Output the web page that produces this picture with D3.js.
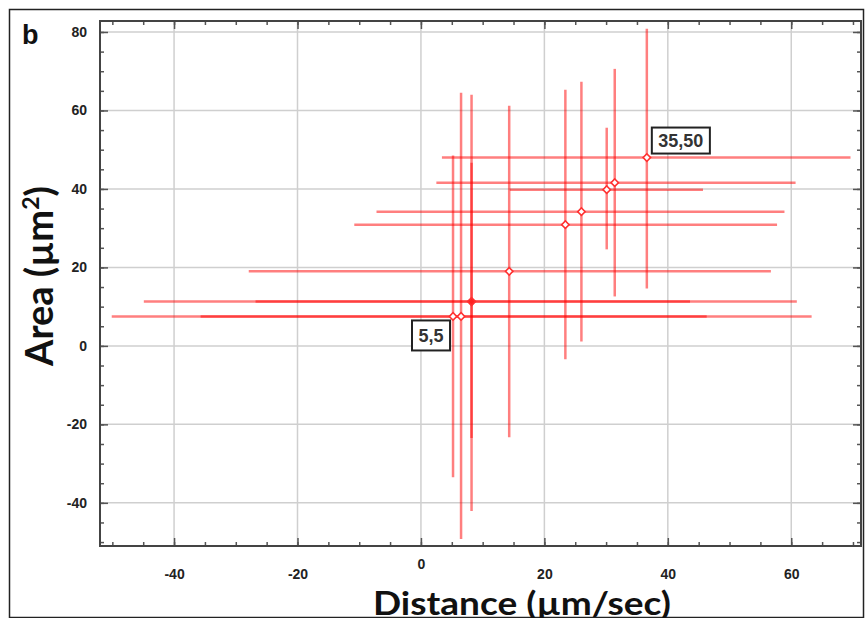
<!DOCTYPE html>
<head>
  <meta charset="utf-8">
  <script src="https://d3js.org/d3.v7.min.js"></script>
  <style>
    body { margin: 0; background: #fff; }
    .tick text { font-family: "Liberation Sans", Arial, sans-serif; font-weight: bold; font-size: 14px; fill: #222; }
    .title { font-family: Lato, "Open Sans", sans-serif; font-weight: bold; fill: #111; }
  </style>
</head>
<body>
<div id="my_dataviz"></div>
<script>

// values (one entry per point)
var pointX = [36.6, 31.4, 30.1, 26.0, 23.4, 14.3, 8.2, 8.2, 5.2, 6.5];
var pointY = [48.0, 41.6, 39.8, 34.2, 30.9, 19.0, 11.3, 11.3, 7.5, 7.5];
var xLow   = [3.4, 2.5, 14.4, -7.2, -10.8, -27.9, -44.9, -26.8, -35.7, -50.1];
var xHigh  = [69.6, 60.7, 45.7, 58.9, 57.7, 56.7, 60.9, 43.6, 46.3, 63.3];
var yLow   = [14.6, 12.6, 24.6, 1.1, -3.4, -23.3, -42.1, -23.5, -33.5, -49.2];
var yHigh  = [80.8, 70.6, 55.6, 67.3, 65.3, 61.2, 64.0, 46.7, 48.5, 64.5];

// tick labels
var xTicks = [-40, -20, 0, 20, 40, 60];
var yTicks = [-40, -20, 0, 20, 40, 60, 80];

// annotations: text and the point they belong to
var noteText  = ["35,50", "5,5"];
var notePoint = [0, 8];

var W = 865, H = 618;
var margin = {top: 21, right: 4, bottom: 72, left: 100};

var svg = d3.select("#my_dataviz")
  .append("svg")
    .attr("width", W)
    .attr("height", H);

// outer frame of the figure
svg.append("rect")
  .attr("x", 9.5).attr("y", 9.5)
  .attr("width", 854).attr("height", 608)
  .attr("fill", "none").attr("stroke", "#222").attr("stroke-width", 1.5);

svg.append("text")
  .attr("class", "title")
  .attr("x", 22).attr("y", 44)
  .style("font-family", "'Liberation Sans', Arial, sans-serif")
  .style("font-size", "27px")
  .text("b");

var x = d3.scaleLinear().domain([-52, 71.3]).range([margin.left, W - margin.right]);
var y = d3.scaleLinear().domain([-51, 82.8]).range([H - margin.bottom, margin.top]);

var x0 = x.range()[0], x1 = x.range()[1], y0 = y.range()[0], y1 = y.range()[1];

// plain hyphen for negatives, as in the original
var fmt = function(d) { return String(d); };

// grid
svg.append("g").selectAll("line").data(xTicks).enter().append("line")
  .attr("x1", function(d){ return x(d); }).attr("x2", function(d){ return x(d); })
  .attr("y1", y1).attr("y2", y0)
  .attr("stroke", "#cfcfcf").attr("stroke-width", 1.5);
svg.append("g").selectAll("line").data(yTicks).enter().append("line")
  .attr("y1", function(d){ return y(d); }).attr("y2", function(d){ return y(d); })
  .attr("x1", x0).attr("x2", x1)
  .attr("stroke", "#cfcfcf").attr("stroke-width", 1.5);

// error bars
var idx = d3.range(pointX.length);
var bars = svg.append("g")
  .attr("stroke", "#ff0000")
  .attr("stroke-opacity", 0.5)
  .attr("stroke-width", 2.5);

bars.selectAll(".hbar").data(idx).enter().append("line")
  .attr("class", "hbar")
  .attr("x1", function(i){ return x(xLow[i]); })
  .attr("x2", function(i){ return x(xHigh[i]); })
  .attr("y1", function(i){ return y(pointY[i]); })
  .attr("y2", function(i){ return y(pointY[i]); });

bars.selectAll(".vbar").data(idx).enter().append("line")
  .attr("class", "vbar")
  .attr("x1", function(i){ return x(pointX[i]); })
  .attr("x2", function(i){ return x(pointX[i]); })
  .attr("y1", function(i){ return y(yLow[i]); })
  .attr("y2", function(i){ return y(yHigh[i]); });

// markers (points sitting on top of each other look solid)
function stacked(i) {
  return idx.filter(function(j){ return pointX[j] === pointX[i] && pointY[j] === pointY[i]; }).length > 1;
}
svg.append("g").selectAll("path").data(idx).enter().append("path")
  .attr("transform", function(i){ return "translate(" + x(pointX[i]) + "," + y(pointY[i]) + ") rotate(45)"; })
  .attr("d", d3.symbol().type(d3.symbolSquare).size(28))
  .attr("fill", function(i){ return stacked(i) ? "#ff2020" : "#fff"; })
  .attr("stroke", "#ff3030")
  .attr("stroke-width", 1.6);

// axes: ticks point inward on all four sides
var minorX = d3.range(-50, 71, 5), minorY = d3.range(-50, 81, 5);

function axisStyle(g) {
  g.select(".domain").remove();
  g.selectAll(".tick line").attr("stroke", "#555").attr("stroke-width", 1.5);
}

svg.append("g").attr("transform", "translate(0," + y0 + ")")
  .call(d3.axisBottom(x).tickValues(minorX).tickSize(-4).tickFormat("")).call(axisStyle);
svg.append("g").attr("transform", "translate(0," + y1 + ")")
  .call(d3.axisTop(x).tickValues(minorX).tickSize(-4).tickFormat("")).call(axisStyle);
svg.append("g").attr("transform", "translate(" + x0 + ",0)")
  .call(d3.axisLeft(y).tickValues(minorY).tickSize(-4).tickFormat("")).call(axisStyle);
svg.append("g").attr("transform", "translate(" + x1 + ",0)")
  .call(d3.axisRight(y).tickValues(minorY).tickSize(-4).tickFormat("")).call(axisStyle);

var bottomAxis = svg.append("g").attr("transform", "translate(0," + y0 + ")")
  .call(d3.axisBottom(x).tickValues(xTicks).tickSize(-8).tickPadding(23).tickFormat(fmt)).call(axisStyle);
// the "0" label sits a little higher in the original
bottomAxis.selectAll(".tick").filter(function(d){ return d === 0; }).select("text").attr("y", 13);

svg.append("g").attr("transform", "translate(0," + y1 + ")")
  .call(d3.axisTop(x).tickValues(xTicks).tickSize(-8).tickFormat("")).call(axisStyle);
svg.append("g").attr("transform", "translate(" + x0 + ",0)")
  .call(d3.axisLeft(y).tickValues(yTicks).tickSize(-8).tickPadding(13).tickFormat(fmt)).call(axisStyle);
svg.append("g").attr("transform", "translate(" + x1 + ",0)")
  .call(d3.axisRight(y).tickValues(yTicks).tickSize(-8).tickFormat("")).call(axisStyle);

// plot frame
svg.append("rect")
  .attr("x", x0).attr("y", y1)
  .attr("width", x1 - x0).attr("height", y0 - y1)
  .attr("fill", "none").attr("stroke", "#444").attr("stroke-width", 2);

// annotation boxes
noteText.forEach(function(t, k) {
  var i = notePoint[k];
  var g = svg.append("g");
  var txt = g.append("text")
    .style("font-family", "'Liberation Sans', Arial, sans-serif")
    .style("font-weight", "bold").style("font-size", "18px")
    .attr("fill", "#333")
    .text(t);
  var w = txt.node().getComputedTextLength() + 13;
  var bx = k === 0 ? x(pointX[i]) + 5 : x(pointX[i]) - 3 - w;
  var by = k === 0 ? y(pointY[i]) - 30 : y(pointY[i]) + 4;
  var bh = k === 0 ? 26 : 30;
  g.insert("rect", "text")
    .attr("x", bx).attr("y", by).attr("width", w).attr("height", bh)
    .attr("fill", "#fff").attr("stroke", "#222").attr("stroke-width", 2);
  txt.attr("x", bx + w / 2).attr("y", by + bh / 2 + 6.5).attr("text-anchor", "middle");
});

// axis titles
svg.append("text")
  .attr("class", "title")
  .attr("x", 522).attr("y", 615)
  .attr("text-anchor", "middle")
  .style("font-size", "32px")
  .attr("textLength", 298).attr("lengthAdjust", "spacingAndGlyphs")
  .text("Distance (µm/sec)");

var yt = svg.append("text")
  .attr("class", "title")
  .attr("transform", "translate(53,276) rotate(-90)")
  .attr("text-anchor", "middle")
  .style("font-size", "38px");
yt.append("tspan").text("Area (µm");
yt.append("tspan").attr("dy", -14).style("font-size", "23px").text("2");
yt.append("tspan").attr("dy", 14).text(")");

</script>
</body>
